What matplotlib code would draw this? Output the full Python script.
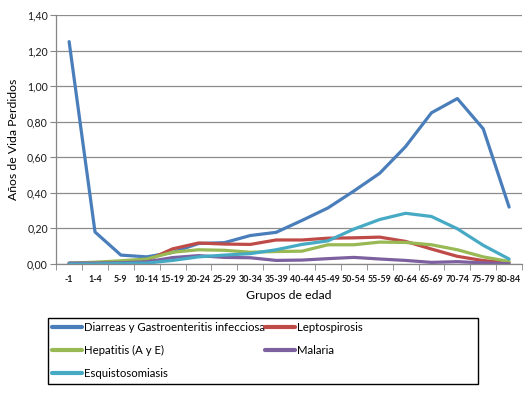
import matplotlib
matplotlib.use('Agg')
import matplotlib.pyplot as plt
from matplotlib.patches import Rectangle
from matplotlib.ticker import FixedLocator, FuncFormatter

plt.rcParams['font.family'] = ['Lato', 'DejaVu Sans']

grupos = ['-1', '1-4', '5-9', '10-14', '15-19', '20-24', '25-29', '30-34', '35-39',
          '40-44', '45-49', '50-54', '55-59', '60-64', '65-69', '70-74', '75-79', '80-84']

diarreas = [1.25, 0.18, 0.05, 0.04, 0.065, 0.115, 0.12, 0.16, 0.178, 0.245, 0.315, 0.41,
            0.51, 0.66, 0.85, 0.93, 0.76, 0.32]
lepto = [0.003, 0.005, 0.01, 0.02, 0.085, 0.118, 0.112, 0.11, 0.135, 0.135, 0.145, 0.147,
         0.151, 0.127, 0.084, 0.043, 0.019, 0.008]
hepatitis = [0.005, 0.01, 0.018, 0.028, 0.066, 0.08, 0.077, 0.066, 0.07, 0.072, 0.108, 0.108,
             0.123, 0.121, 0.108, 0.08, 0.04, 0.014]
malaria = [0.005, 0.005, 0.007, 0.012, 0.036, 0.047, 0.037, 0.035, 0.02, 0.022, 0.03, 0.037,
           0.028, 0.02, 0.009, 0.013, 0.006, 0.001]
esquisto = [0.0, 0.0, 0.003, 0.005, 0.02, 0.04, 0.05, 0.058, 0.08, 0.11, 0.13, 0.196,
            0.25, 0.285, 0.267, 0.198, 0.105, 0.028]

series = [
    ('Diarreas y Gastroenteritis infecciosa', diarreas, '#4A7EBB'),
    ('Leptospirosis', lepto, '#BE4B48'),
    ('Hepatitis (A y E)', hepatitis, '#98B954'),
    ('Malaria', malaria, '#7D60A0'),
    ('Esquistosomiasis', esquisto, '#46AAC5'),
]

fig = plt.figure(figsize=(5.3, 3.94), dpi=100)
ax = fig.add_axes([0.106, 0.330, 0.879, 0.632])

handles = {}
for name, vals, col in series:
    h, = ax.plot(range(len(grupos)), vals, color=col, lw=2.3, solid_capstyle='round',
                 solid_joinstyle='round', label=name)
    handles[name] = h

ax.set_xlim(-0.5, len(grupos) - 0.5)
ax.set_ylim(0, 1.4)
ax.set_yticks([0, 0.2, 0.4, 0.6, 0.8, 1.0, 1.2, 1.4])
ax.yaxis.set_major_formatter(FuncFormatter(lambda v, p: f'{v:.2f}'.replace('.', ',')))
ax.set_xticks(range(len(grupos)))
ax.set_xticklabels(grupos, fontweight='bold')
ax.xaxis.set_minor_locator(FixedLocator([i - 0.5 for i in range(len(grupos) + 1)]))
ax.tick_params(axis='x', which='major', length=0, labelsize=6.4, pad=8, labelcolor='#1a1a1a')
ax.tick_params(axis='x', which='minor', length=4, color='#868686')
ax.tick_params(axis='y', length=4, color='#868686', labelsize=7.6, pad=2, labelcolor='#1a1a1a')
ax.grid(axis='y', color='#8C8C8C', lw=0.9)
ax.set_axisbelow(True)
for s in ['top', 'right']:
    ax.spines[s].set_visible(False)
for s in ['left', 'bottom']:
    ax.spines[s].set_color('#868686')
    ax.spines[s].set_linewidth(0.9)

ax.set_ylabel('Años de Vida Perdidos', fontsize=8.8, labelpad=6)
ax.set_xlabel('Grupos de edad', fontsize=8.8, labelpad=4)

order = ['Diarreas y Gastroenteritis infecciosa', 'Hepatitis (A y E)', 'Esquistosomiasis',
         'Leptospirosis', 'Malaria']
leg = fig.legend([handles[n] for n in order], order, ncol=2, loc='upper left',
                 bbox_to_anchor=(49 / 530, 1 - 319 / 394), fontsize=8.2, frameon=False,
                 handlelength=2.6, handletextpad=0.15,
                 columnspacing=0.05, labelspacing=1.05, borderpad=0.3, borderaxespad=0)
for line in leg.get_lines():
    line.set_linewidth(3)

# legend frame (Excel style, wider than its contents)
fig.patches.append(Rectangle((48 / 530, 1 - 384 / 394), 430 / 530, 66 / 394,
                             transform=fig.transFigure, fill=False, edgecolor='black', lw=1.0))

fig.savefig('out.png', dpi=100)
